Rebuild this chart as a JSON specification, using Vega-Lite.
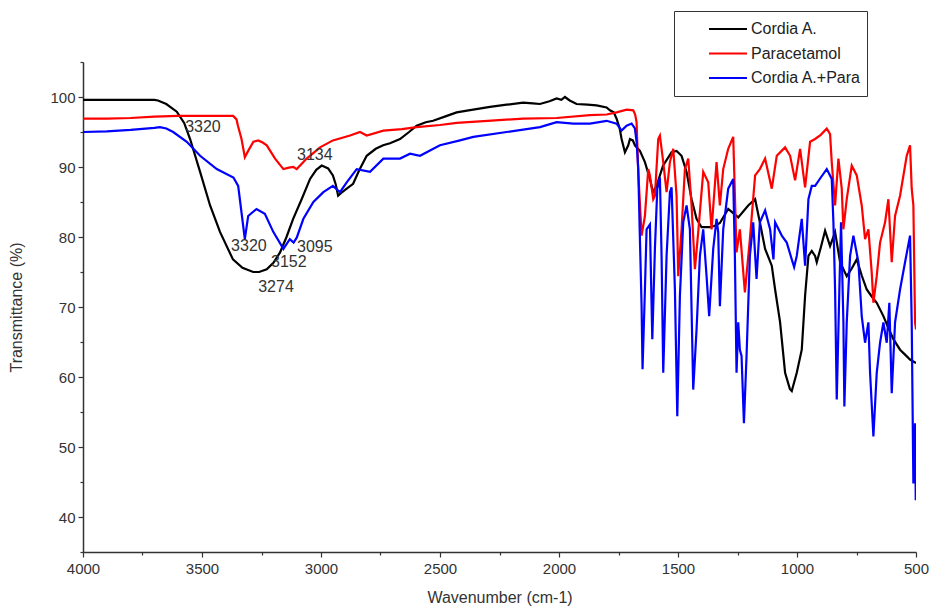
{
"$schema": "https://vega.github.io/schema/vega-lite/v6.json",
"width": 833, "height": 490,
"autosize": {"type": "none"},
"padding": {"left": 83, "top": 62, "right": 13, "bottom": 57},
"background": "white",
"config": {"view": {"stroke": null}, "font": "Liberation Sans"},
"datasets": {
"ann": [
{"t": "3320", "x": 3496, "y": 95.7},
{"t": "3134", "x": 3026, "y": 91.7},
{"t": "3320", "x": 3303, "y": 78.7},
{"t": "3095", "x": 3026, "y": 78.6},
{"t": "3152", "x": 3135, "y": 76.4},
{"t": "3274", "x": 3189, "y": 72.8}
],
"spec": [
{"s":"Cordia A.","x":4000,"y":99.6},{"s":"Cordia A.","x":3800,"y":99.6},{"s":"Cordia A.","x":3700,"y":99.6},{"s":"Cordia A.","x":3685,"y":99.5},{"s":"Cordia A.","x":3650,"y":99.0},{"s":"Cordia A.","x":3606,"y":97.9},{"s":"Cordia A.","x":3575,"y":96.3},{"s":"Cordia A.","x":3550,"y":94.0},{"s":"Cordia A.","x":3508,"y":89.3},{"s":"Cordia A.","x":3466,"y":84.5},{"s":"Cordia A.","x":3424,"y":80.7},{"s":"Cordia A.","x":3370,"y":76.8},{"s":"Cordia A.","x":3330,"y":75.6},{"s":"Cordia A.","x":3285,"y":75.0},{"s":"Cordia A.","x":3260,"y":75.0},{"s":"Cordia A.","x":3228,"y":75.4},{"s":"Cordia A.","x":3200,"y":76.3},{"s":"Cordia A.","x":3172,"y":77.8},{"s":"Cordia A.","x":3145,"y":80.0},{"s":"Cordia A.","x":3117,"y":82.6},{"s":"Cordia A.","x":3080,"y":85.5},{"s":"Cordia A.","x":3046,"y":88.3},{"s":"Cordia A.","x":3020,"y":89.6},{"s":"Cordia A.","x":2997,"y":90.2},{"s":"Cordia A.","x":2970,"y":89.8},{"s":"Cordia A.","x":2950,"y":88.8},{"s":"Cordia A.","x":2938,"y":87.5},{"s":"Cordia A.","x":2928,"y":85.9},{"s":"Cordia A.","x":2915,"y":86.3},{"s":"Cordia A.","x":2892,"y":86.9},{"s":"Cordia A.","x":2865,"y":87.6},{"s":"Cordia A.","x":2840,"y":89.5},{"s":"Cordia A.","x":2808,"y":91.6},{"s":"Cordia A.","x":2770,"y":92.6},{"s":"Cordia A.","x":2739,"y":93.1},{"s":"Cordia A.","x":2710,"y":93.4},{"s":"Cordia A.","x":2668,"y":94.0},{"s":"Cordia A.","x":2630,"y":95.0},{"s":"Cordia A.","x":2598,"y":95.9},{"s":"Cordia A.","x":2560,"y":96.4},{"s":"Cordia A.","x":2529,"y":96.6},{"s":"Cordia A.","x":2480,"y":97.2},{"s":"Cordia A.","x":2430,"y":97.8},{"s":"Cordia A.","x":2380,"y":98.1},{"s":"Cordia A.","x":2290,"y":98.6},{"s":"Cordia A.","x":2220,"y":98.9},{"s":"Cordia A.","x":2151,"y":99.2},{"s":"Cordia A.","x":2110,"y":99.1},{"s":"Cordia A.","x":2080,"y":99.0},{"s":"Cordia A.","x":2040,"y":99.4},{"s":"Cordia A.","x":2010,"y":99.8},{"s":"Cordia A.","x":1990,"y":99.6},{"s":"Cordia A.","x":1975,"y":100.0},{"s":"Cordia A.","x":1955,"y":99.5},{"s":"Cordia A.","x":1926,"y":99.0},{"s":"Cordia A.","x":1880,"y":98.9},{"s":"Cordia A.","x":1842,"y":98.8},{"s":"Cordia A.","x":1800,"y":98.5},{"s":"Cordia A.","x":1786,"y":98.1},{"s":"Cordia A.","x":1770,"y":97.8},{"s":"Cordia A.","x":1758,"y":96.9},{"s":"Cordia A.","x":1745,"y":95.5},{"s":"Cordia A.","x":1737,"y":94.0},{"s":"Cordia A.","x":1723,"y":92.1},{"s":"Cordia A.","x":1709,"y":93.1},{"s":"Cordia A.","x":1702,"y":94.0},{"s":"Cordia A.","x":1690,"y":93.8},{"s":"Cordia A.","x":1681,"y":93.1},{"s":"Cordia A.","x":1660,"y":92.3},{"s":"Cordia A.","x":1639,"y":90.7},{"s":"Cordia A.","x":1618,"y":88.3},{"s":"Cordia A.","x":1605,"y":86.4},{"s":"Cordia A.","x":1590,"y":87.3},{"s":"Cordia A.","x":1563,"y":90.2},{"s":"Cordia A.","x":1527,"y":92.1},{"s":"Cordia A.","x":1506,"y":92.3},{"s":"Cordia A.","x":1485,"y":91.6},{"s":"Cordia A.","x":1464,"y":89.3},{"s":"Cordia A.","x":1443,"y":85.4},{"s":"Cordia A.","x":1422,"y":82.6},{"s":"Cordia A.","x":1401,"y":81.4},{"s":"Cordia A.","x":1366,"y":81.4},{"s":"Cordia A.","x":1345,"y":81.6},{"s":"Cordia A.","x":1324,"y":82.0},{"s":"Cordia A.","x":1289,"y":84.0},{"s":"Cordia A.","x":1247,"y":82.8},{"s":"Cordia A.","x":1205,"y":84.5},{"s":"Cordia A.","x":1176,"y":85.4},{"s":"Cordia A.","x":1156,"y":82.1},{"s":"Cordia A.","x":1134,"y":78.3},{"s":"Cordia A.","x":1106,"y":75.9},{"s":"Cordia A.","x":1092,"y":72.5},{"s":"Cordia A.","x":1071,"y":67.8},{"s":"Cordia A.","x":1050,"y":60.6},{"s":"Cordia A.","x":1030,"y":58.3},{"s":"Cordia A.","x":1022,"y":58.0},{"s":"Cordia A.","x":1001,"y":60.6},{"s":"Cordia A.","x":980,"y":63.9},{"s":"Cordia A.","x":966,"y":71.6},{"s":"Cordia A.","x":952,"y":77.3},{"s":"Cordia A.","x":938,"y":78.0},{"s":"Cordia A.","x":924,"y":77.3},{"s":"Cordia A.","x":917,"y":76.4},{"s":"Cordia A.","x":900,"y":78.5},{"s":"Cordia A.","x":882,"y":80.9},{"s":"Cordia A.","x":861,"y":78.7},{"s":"Cordia A.","x":840,"y":80.7},{"s":"Cordia A.","x":819,"y":76.4},{"s":"Cordia A.","x":791,"y":74.4},{"s":"Cordia A.","x":770,"y":75.5},{"s":"Cordia A.","x":749,"y":76.8},{"s":"Cordia A.","x":728,"y":74.5},{"s":"Cordia A.","x":707,"y":72.5},{"s":"Cordia A.","x":686,"y":71.5},{"s":"Cordia A.","x":665,"y":70.6},{"s":"Cordia A.","x":637,"y":68.7},{"s":"Cordia A.","x":616,"y":67.0},{"s":"Cordia A.","x":595,"y":65.4},{"s":"Cordia A.","x":567,"y":63.9},{"s":"Cordia A.","x":546,"y":63.2},{"s":"Cordia A.","x":525,"y":62.5},{"s":"Cordia A.","x":500,"y":62.0},
{"s":"Paracetamol","x":4000,"y":96.9},{"s":"Paracetamol","x":3900,"y":96.9},{"s":"Paracetamol","x":3800,"y":97.0},{"s":"Paracetamol","x":3700,"y":97.2},{"s":"Paracetamol","x":3600,"y":97.3},{"s":"Paracetamol","x":3500,"y":97.3},{"s":"Paracetamol","x":3400,"y":97.3},{"s":"Paracetamol","x":3369,"y":97.3},{"s":"Paracetamol","x":3355,"y":96.8},{"s":"Paracetamol","x":3349,"y":95.9},{"s":"Paracetamol","x":3334,"y":94.0},{"s":"Paracetamol","x":3320,"y":91.4},{"s":"Paracetamol","x":3306,"y":92.3},{"s":"Paracetamol","x":3284,"y":93.6},{"s":"Paracetamol","x":3264,"y":93.8},{"s":"Paracetamol","x":3245,"y":93.5},{"s":"Paracetamol","x":3228,"y":93.1},{"s":"Paracetamol","x":3193,"y":91.2},{"s":"Paracetamol","x":3158,"y":89.7},{"s":"Paracetamol","x":3135,"y":89.9},{"s":"Paracetamol","x":3116,"y":90.0},{"s":"Paracetamol","x":3102,"y":89.7},{"s":"Paracetamol","x":3060,"y":91.2},{"s":"Paracetamol","x":3004,"y":92.8},{"s":"Paracetamol","x":2950,"y":93.8},{"s":"Paracetamol","x":2878,"y":94.5},{"s":"Paracetamol","x":2836,"y":95.0},{"s":"Paracetamol","x":2808,"y":94.5},{"s":"Paracetamol","x":2738,"y":95.2},{"s":"Paracetamol","x":2660,"y":95.4},{"s":"Paracetamol","x":2598,"y":95.7},{"s":"Paracetamol","x":2500,"y":96.0},{"s":"Paracetamol","x":2430,"y":96.3},{"s":"Paracetamol","x":2300,"y":96.6},{"s":"Paracetamol","x":2151,"y":96.9},{"s":"Paracetamol","x":2010,"y":97.0},{"s":"Paracetamol","x":1870,"y":97.4},{"s":"Paracetamol","x":1800,"y":97.5},{"s":"Paracetamol","x":1758,"y":97.8},{"s":"Paracetamol","x":1716,"y":98.2},{"s":"Paracetamol","x":1688,"y":98.1},{"s":"Paracetamol","x":1680,"y":97.5},{"s":"Paracetamol","x":1674,"y":96.4},{"s":"Paracetamol","x":1667,"y":89.3},{"s":"Paracetamol","x":1653,"y":80.2},{"s":"Paracetamol","x":1639,"y":83.0},{"s":"Paracetamol","x":1625,"y":89.7},{"s":"Paracetamol","x":1618,"y":88.8},{"s":"Paracetamol","x":1604,"y":85.4},{"s":"Paracetamol","x":1597,"y":85.9},{"s":"Paracetamol","x":1583,"y":94.0},{"s":"Paracetamol","x":1576,"y":94.5},{"s":"Paracetamol","x":1562,"y":90.7},{"s":"Paracetamol","x":1548,"y":86.4},{"s":"Paracetamol","x":1534,"y":90.7},{"s":"Paracetamol","x":1520,"y":92.6},{"s":"Paracetamol","x":1506,"y":85.9},{"s":"Paracetamol","x":1499,"y":74.4},{"s":"Paracetamol","x":1485,"y":81.1},{"s":"Paracetamol","x":1471,"y":89.7},{"s":"Paracetamol","x":1457,"y":91.2},{"s":"Paracetamol","x":1443,"y":84.5},{"s":"Paracetamol","x":1429,"y":75.4},{"s":"Paracetamol","x":1415,"y":80.7},{"s":"Paracetamol","x":1394,"y":89.3},{"s":"Paracetamol","x":1373,"y":87.8},{"s":"Paracetamol","x":1359,"y":81.1},{"s":"Paracetamol","x":1338,"y":90.7},{"s":"Paracetamol","x":1324,"y":84.5},{"s":"Paracetamol","x":1310,"y":89.7},{"s":"Paracetamol","x":1289,"y":92.6},{"s":"Paracetamol","x":1268,"y":94.3},{"s":"Paracetamol","x":1254,"y":77.8},{"s":"Paracetamol","x":1240,"y":81.1},{"s":"Paracetamol","x":1219,"y":72.1},{"s":"Paracetamol","x":1198,"y":79.7},{"s":"Paracetamol","x":1176,"y":88.8},{"s":"Paracetamol","x":1156,"y":89.7},{"s":"Paracetamol","x":1134,"y":91.2},{"s":"Paracetamol","x":1106,"y":86.9},{"s":"Paracetamol","x":1085,"y":91.6},{"s":"Paracetamol","x":1050,"y":92.8},{"s":"Paracetamol","x":1029,"y":91.6},{"s":"Paracetamol","x":1008,"y":88.1},{"s":"Paracetamol","x":987,"y":92.6},{"s":"Paracetamol","x":966,"y":87.1},{"s":"Paracetamol","x":945,"y":93.6},{"s":"Paracetamol","x":924,"y":94.0},{"s":"Paracetamol","x":900,"y":94.6},{"s":"Paracetamol","x":875,"y":95.5},{"s":"Paracetamol","x":861,"y":94.7},{"s":"Paracetamol","x":854,"y":90.7},{"s":"Paracetamol","x":840,"y":84.5},{"s":"Paracetamol","x":826,"y":91.2},{"s":"Paracetamol","x":812,"y":86.9},{"s":"Paracetamol","x":805,"y":81.1},{"s":"Paracetamol","x":791,"y":85.4},{"s":"Paracetamol","x":770,"y":90.2},{"s":"Paracetamol","x":749,"y":88.8},{"s":"Paracetamol","x":728,"y":84.5},{"s":"Paracetamol","x":714,"y":79.7},{"s":"Paracetamol","x":700,"y":81.1},{"s":"Paracetamol","x":686,"y":74.9},{"s":"Paracetamol","x":679,"y":70.6},{"s":"Paracetamol","x":665,"y":74.4},{"s":"Paracetamol","x":651,"y":79.2},{"s":"Paracetamol","x":630,"y":82.1},{"s":"Paracetamol","x":616,"y":85.4},{"s":"Paracetamol","x":602,"y":76.4},{"s":"Paracetamol","x":588,"y":83.0},{"s":"Paracetamol","x":567,"y":85.9},{"s":"Paracetamol","x":539,"y":91.6},{"s":"Paracetamol","x":525,"y":93.1},{"s":"Paracetamol","x":518,"y":86.9},{"s":"Paracetamol","x":511,"y":84.5},{"s":"Paracetamol","x":504,"y":67.8},{"s":"Paracetamol","x":500,"y":66.8},
{"s":"Cordia A.+Para","x":4000,"y":95.0},{"s":"Cordia A.+Para","x":3900,"y":95.1},{"s":"Cordia A.+Para","x":3800,"y":95.3},{"s":"Cordia A.+Para","x":3700,"y":95.6},{"s":"Cordia A.+Para","x":3677,"y":95.7},{"s":"Cordia A.+Para","x":3650,"y":95.5},{"s":"Cordia A.+Para","x":3621,"y":95.0},{"s":"Cordia A.+Para","x":3564,"y":93.6},{"s":"Cordia A.+Para","x":3508,"y":91.6},{"s":"Cordia A.+Para","x":3438,"y":89.7},{"s":"Cordia A.+Para","x":3368,"y":88.5},{"s":"Cordia A.+Para","x":3348,"y":87.3},{"s":"Cordia A.+Para","x":3334,"y":83.5},{"s":"Cordia A.+Para","x":3320,"y":79.7},{"s":"Cordia A.+Para","x":3306,"y":83.0},{"s":"Cordia A.+Para","x":3271,"y":84.0},{"s":"Cordia A.+Para","x":3236,"y":83.3},{"s":"Cordia A.+Para","x":3200,"y":80.7},{"s":"Cordia A.+Para","x":3158,"y":78.3},{"s":"Cordia A.+Para","x":3131,"y":79.7},{"s":"Cordia A.+Para","x":3115,"y":79.2},{"s":"Cordia A.+Para","x":3102,"y":79.9},{"s":"Cordia A.+Para","x":3074,"y":82.6},{"s":"Cordia A.+Para","x":3032,"y":85.0},{"s":"Cordia A.+Para","x":2990,"y":86.4},{"s":"Cordia A.+Para","x":2950,"y":87.3},{"s":"Cordia A.+Para","x":2920,"y":86.4},{"s":"Cordia A.+Para","x":2892,"y":87.8},{"s":"Cordia A.+Para","x":2850,"y":89.7},{"s":"Cordia A.+Para","x":2794,"y":89.3},{"s":"Cordia A.+Para","x":2738,"y":91.2},{"s":"Cordia A.+Para","x":2668,"y":91.2},{"s":"Cordia A.+Para","x":2626,"y":91.9},{"s":"Cordia A.+Para","x":2584,"y":91.6},{"s":"Cordia A.+Para","x":2528,"y":92.6},{"s":"Cordia A.+Para","x":2500,"y":93.1},{"s":"Cordia A.+Para","x":2416,"y":93.8},{"s":"Cordia A.+Para","x":2360,"y":94.3},{"s":"Cordia A.+Para","x":2220,"y":95.0},{"s":"Cordia A.+Para","x":2080,"y":95.7},{"s":"Cordia A.+Para","x":2010,"y":96.4},{"s":"Cordia A.+Para","x":1940,"y":96.2},{"s":"Cordia A.+Para","x":1870,"y":96.2},{"s":"Cordia A.+Para","x":1800,"y":96.6},{"s":"Cordia A.+Para","x":1758,"y":96.2},{"s":"Cordia A.+Para","x":1737,"y":95.2},{"s":"Cordia A.+Para","x":1716,"y":95.9},{"s":"Cordia A.+Para","x":1695,"y":96.2},{"s":"Cordia A.+Para","x":1681,"y":95.5},{"s":"Cordia A.+Para","x":1674,"y":93.6},{"s":"Cordia A.+Para","x":1667,"y":89.7},{"s":"Cordia A.+Para","x":1660,"y":79.7},{"s":"Cordia A.+Para","x":1653,"y":70.1},{"s":"Cordia A.+Para","x":1649,"y":61.1},{"s":"Cordia A.+Para","x":1639,"y":72.5},{"s":"Cordia A.+Para","x":1632,"y":81.1},{"s":"Cordia A.+Para","x":1618,"y":81.8},{"s":"Cordia A.+Para","x":1608,"y":65.4},{"s":"Cordia A.+Para","x":1597,"y":78.3},{"s":"Cordia A.+Para","x":1587,"y":86.9},{"s":"Cordia A.+Para","x":1576,"y":88.5},{"s":"Cordia A.+Para","x":1569,"y":77.3},{"s":"Cordia A.+Para","x":1562,"y":60.6},{"s":"Cordia A.+Para","x":1548,"y":77.3},{"s":"Cordia A.+Para","x":1534,"y":86.4},{"s":"Cordia A.+Para","x":1527,"y":87.1},{"s":"Cordia A.+Para","x":1513,"y":72.5},{"s":"Cordia A.+Para","x":1503,"y":54.4},{"s":"Cordia A.+Para","x":1492,"y":71.6},{"s":"Cordia A.+Para","x":1478,"y":82.1},{"s":"Cordia A.+Para","x":1464,"y":84.5},{"s":"Cordia A.+Para","x":1450,"y":81.1},{"s":"Cordia A.+Para","x":1436,"y":58.2},{"s":"Cordia A.+Para","x":1422,"y":66.8},{"s":"Cordia A.+Para","x":1408,"y":77.3},{"s":"Cordia A.+Para","x":1394,"y":81.1},{"s":"Cordia A.+Para","x":1380,"y":74.4},{"s":"Cordia A.+Para","x":1369,"y":68.7},{"s":"Cordia A.+Para","x":1352,"y":78.3},{"s":"Cordia A.+Para","x":1338,"y":82.6},{"s":"Cordia A.+Para","x":1331,"y":80.7},{"s":"Cordia A.+Para","x":1324,"y":70.1},{"s":"Cordia A.+Para","x":1310,"y":81.1},{"s":"Cordia A.+Para","x":1289,"y":86.9},{"s":"Cordia A.+Para","x":1268,"y":88.3},{"s":"Cordia A.+Para","x":1261,"y":77.3},{"s":"Cordia A.+Para","x":1254,"y":60.6},{"s":"Cordia A.+Para","x":1247,"y":67.8},{"s":"Cordia A.+Para","x":1240,"y":63.9},{"s":"Cordia A.+Para","x":1233,"y":63.0},{"s":"Cordia A.+Para","x":1223,"y":53.4},{"s":"Cordia A.+Para","x":1212,"y":63.0},{"s":"Cordia A.+Para","x":1198,"y":77.3},{"s":"Cordia A.+Para","x":1184,"y":82.1},{"s":"Cordia A.+Para","x":1170,"y":74.0},{"s":"Cordia A.+Para","x":1156,"y":82.1},{"s":"Cordia A.+Para","x":1134,"y":83.8},{"s":"Cordia A.+Para","x":1113,"y":81.1},{"s":"Cordia A.+Para","x":1099,"y":76.8},{"s":"Cordia A.+Para","x":1092,"y":82.1},{"s":"Cordia A.+Para","x":1064,"y":80.2},{"s":"Cordia A.+Para","x":1043,"y":79.2},{"s":"Cordia A.+Para","x":1022,"y":76.8},{"s":"Cordia A.+Para","x":1012,"y":75.7},{"s":"Cordia A.+Para","x":1001,"y":77.3},{"s":"Cordia A.+Para","x":980,"y":82.6},{"s":"Cordia A.+Para","x":966,"y":75.9},{"s":"Cordia A.+Para","x":952,"y":85.4},{"s":"Cordia A.+Para","x":938,"y":87.3},{"s":"Cordia A.+Para","x":924,"y":87.3},{"s":"Cordia A.+Para","x":900,"y":88.5},{"s":"Cordia A.+Para","x":875,"y":89.7},{"s":"Cordia A.+Para","x":854,"y":88.3},{"s":"Cordia A.+Para","x":847,"y":82.1},{"s":"Cordia A.+Para","x":840,"y":72.5},{"s":"Cordia A.+Para","x":833,"y":56.8},{"s":"Cordia A.+Para","x":822,"y":72.5},{"s":"Cordia A.+Para","x":815,"y":82.1},{"s":"Cordia A.+Para","x":805,"y":67.8},{"s":"Cordia A.+Para","x":801,"y":55.8},{"s":"Cordia A.+Para","x":791,"y":67.8},{"s":"Cordia A.+Para","x":777,"y":77.3},{"s":"Cordia A.+Para","x":763,"y":80.2},{"s":"Cordia A.+Para","x":742,"y":76.4},{"s":"Cordia A.+Para","x":728,"y":68.7},{"s":"Cordia A.+Para","x":714,"y":64.9},{"s":"Cordia A.+Para","x":700,"y":67.8},{"s":"Cordia A.+Para","x":693,"y":60.6},{"s":"Cordia A.+Para","x":679,"y":51.5},{"s":"Cordia A.+Para","x":665,"y":60.6},{"s":"Cordia A.+Para","x":651,"y":64.9},{"s":"Cordia A.+Para","x":637,"y":67.8},{"s":"Cordia A.+Para","x":623,"y":64.9},{"s":"Cordia A.+Para","x":612,"y":70.6},{"s":"Cordia A.+Para","x":602,"y":57.7},{"s":"Cordia A.+Para","x":588,"y":67.8},{"s":"Cordia A.+Para","x":567,"y":72.5},{"s":"Cordia A.+Para","x":546,"y":76.4},{"s":"Cordia A.+Para","x":525,"y":80.2},{"s":"Cordia A.+Para","x":518,"y":67.8},{"s":"Cordia A.+Para","x":511,"y":44.8},{"s":"Cordia A.+Para","x":504,"y":53.4},{"s":"Cordia A.+Para","x":501,"y":42.4}
]
},
"layer": [
{
"data": {"name": "spec"},
"mark": {"type": "line", "strokeWidth": 2.2, "interpolate": "linear", "clip": true},
"encoding": {
"x": {"field": "x", "type": "quantitative",
 "scale": {"domain": [500, 4000], "reverse": true, "nice": false, "zero": false},
 "axis": {"orient": "bottom", "values": [4000, 3500, 3000, 2500, 2000, 1500, 1000, 500], "format": "d", "title": "Wavenumber (cm-1)", "grid": false,
  "domainColor": "#333", "domainWidth": 1.5, "tickColor": "#333", "tickSize": 5, "tickWidth": 1.2,
  "labelFont": "Liberation Sans", "labelFontSize": 15, "labelColor": "#333", "labelPadding": 4, "labelFlush": false,
  "titleFont": "Liberation Sans", "titleFontSize": 16, "titleFontWeight": "normal", "titleColor": "#333", "titlePadding": 13}},
"y": {"field": "y", "type": "quantitative",
 "scale": {"domain": [35, 105], "nice": false, "zero": false},
 "axis": {"orient": "left", "values": [40, 50, 60, 70, 80, 90, 100], "title": "Transmittance (%)", "grid": false,
  "domainColor": "#333", "domainWidth": 1.5, "tickColor": "#333", "tickSize": 5, "tickWidth": 1.2,
  "labelFont": "Liberation Sans", "labelFontSize": 15, "labelColor": "#333", "labelPadding": 3,
  "titleFont": "Liberation Sans", "titleFontSize": 16, "titleFontWeight": "normal", "titleColor": "#333", "titlePadding": 25}},
"color": {"field": "s", "type": "nominal",
 "scale": {"domain": ["Cordia A.", "Paracetamol", "Cordia A.+Para"], "range": ["#000000", "#ff0000", "#0000ff"]},
 "legend": {"title": null, "orient": "none", "legendX": 591, "legendY": -51,
  "strokeColor": "#333", "padding": 6, "symbolOffset": 28, "clipHeight": 24,
  "symbolType": "stroke", "symbolSize": 1444, "symbolStrokeWidth": 2,
  "labelFont": "Liberation Sans", "labelFontSize": 16, "labelColor": "#222", "labelOffset": 3, "rowPadding": 0.5}}
}
},
{
"data": {"name": "ann"},
"mark": {"type": "text", "font": "Liberation Sans", "fontSize": 16, "color": "#333", "align": "center", "baseline": "middle"},
"encoding": {
"x": {"field": "x", "type": "quantitative",
 "axis": {"orient": "bottom", "values": [3750, 3250, 2750, 2250, 1750, 1250, 750], "labels": false, "domain": false, "title": null, "grid": false, "tickColor": "#333", "tickSize": 3, "tickWidth": 1.2}},
"y": {"field": "y", "type": "quantitative",
 "axis": {"orient": "left", "values": [35, 45, 55, 65, 75, 85, 95, 105], "labels": false, "domain": false, "title": null, "grid": false, "tickColor": "#333", "tickSize": 3, "tickWidth": 1.2}},
"text": {"field": "t"}
}
}
],
"resolve": {"axis": {"x": "independent", "y": "independent"}}
}
